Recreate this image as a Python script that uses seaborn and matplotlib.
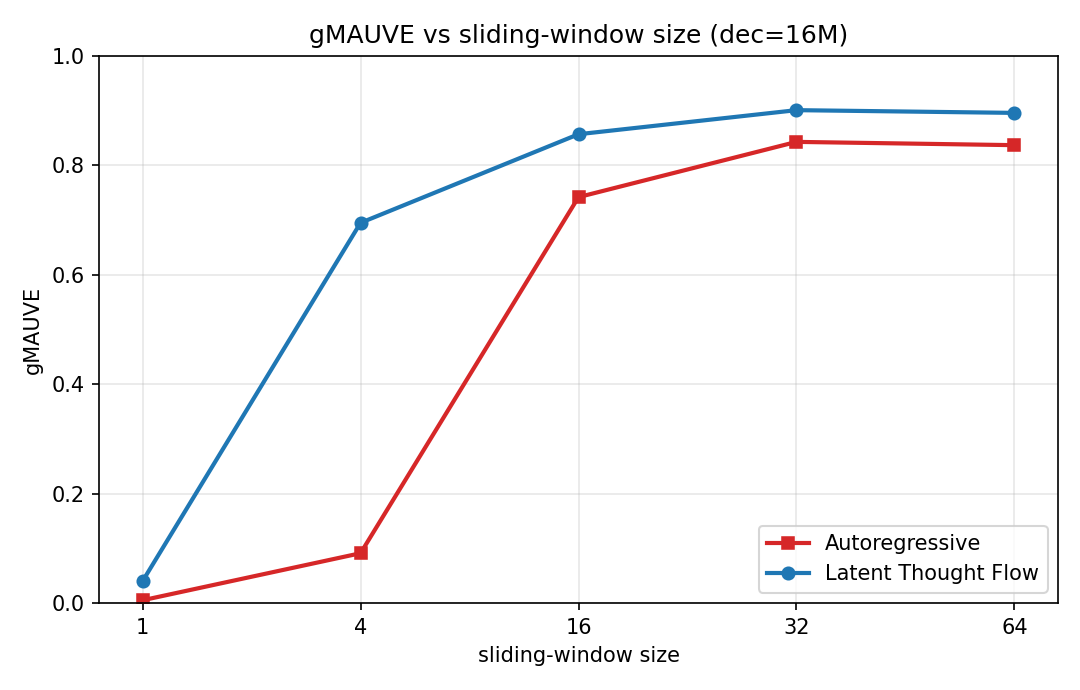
import matplotlib
matplotlib.use("Agg")
import matplotlib.pyplot as plt
import seaborn as sns
import pandas as pd

window_labels = ["1", "4", "16", "32", "64"]
ar_values = [0.005, 0.091, 0.742, 0.843, 0.837]
ltf_values = [0.040, 0.695, 0.857, 0.901, 0.896]

plt.rcParams['font.family'] = ['DejaVu Sans']

fig = plt.figure(figsize=(7.2, 4.6), dpi=150)
ax = fig.add_axes([99/1080, 1 - 603/690, (1058-99)/1080, (603-56)/690])

idx = list(range(len(window_labels)))
df_ar = pd.DataFrame({"x": idx, "y": ar_values})
df_ltf = pd.DataFrame({"x": idx, "y": ltf_values})

sns.lineplot(data=df_ar, x="x", y="y", ax=ax, color="#d62728", marker="s",
             markersize=6, linewidth=2, markeredgecolor="#d62728",
             label="Autoregressive")
sns.lineplot(data=df_ltf, x="x", y="y", ax=ax, color="#1f77b4", marker="o",
             markersize=6, linewidth=2, markeredgecolor="#1f77b4",
             label="Latent Thought Flow")

ax.set_xticks(idx)
ax.set_xticklabels(window_labels)
ax.set_xlim(-0.2, 4.2)
ax.set_ylim(0, 1.0)
ax.grid(True, alpha=0.3)
ax.set_xlabel("sliding-window size")
ax.set_ylabel("gMAUVE")
ax.set_title("gMAUVE vs sliding-window size (dec=16M)", fontsize=12)
ax.legend(loc="lower right")

fig.savefig("out.png", dpi=150)
